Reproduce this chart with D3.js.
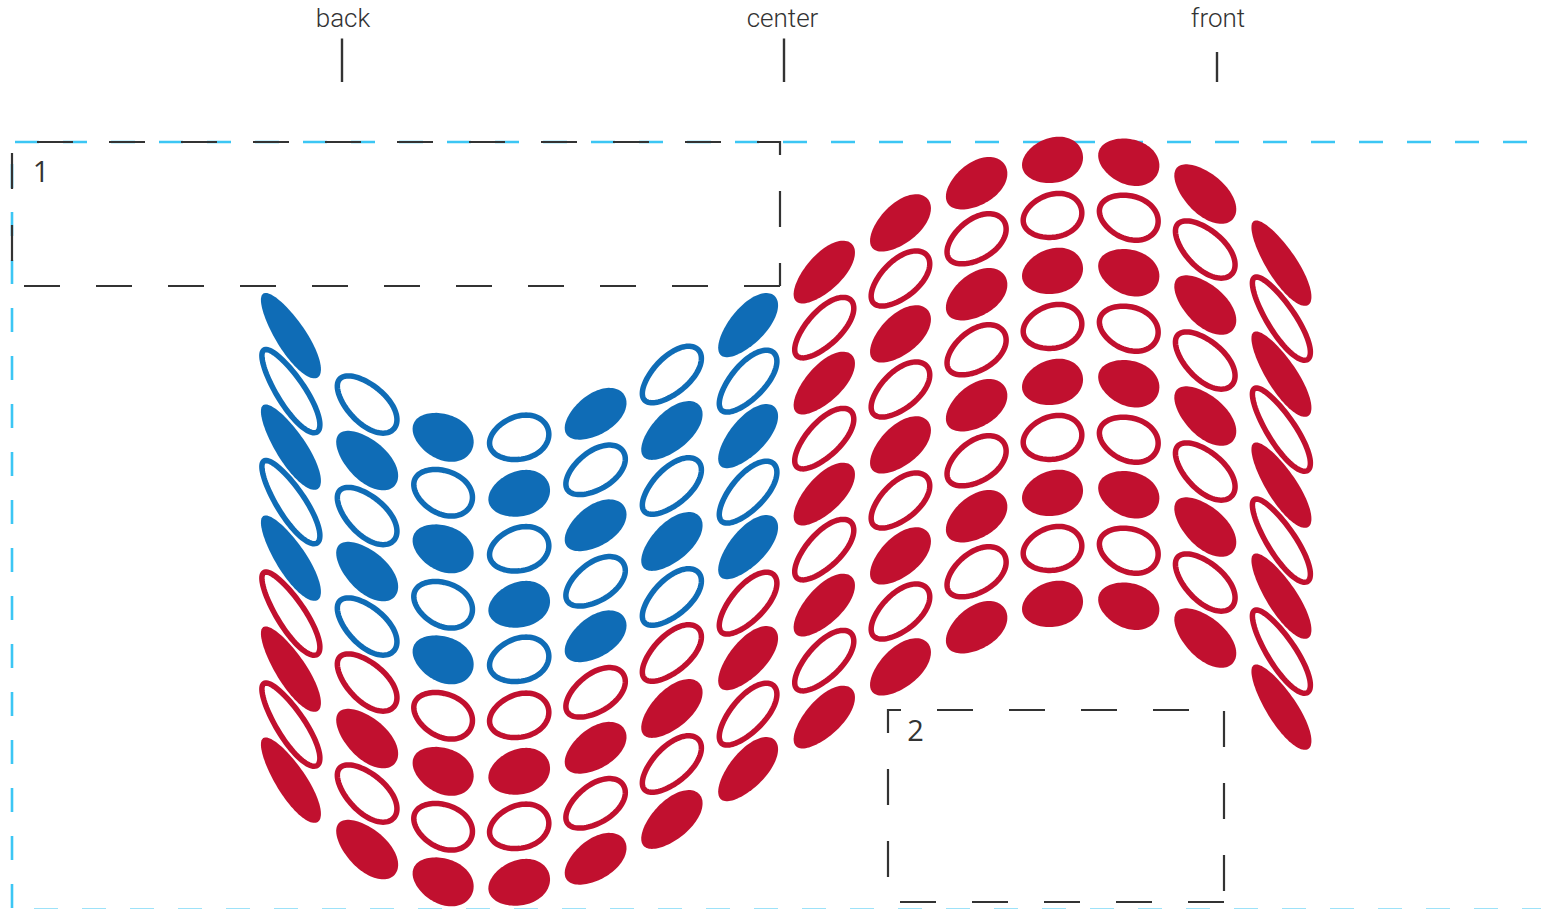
<!DOCTYPE html>
<html>
<head>
<meta charset="utf-8">
<style>
  html, body { margin: 0; padding: 0; background: #fff; overflow: hidden; }
  svg { display: block; }
  text { fill: #333; }
</style>
</head>
<body>
<svg id="chart" width="1541" height="909"></svg>
<script src="https://cdn.jsdelivr.net/npm/d3@7"></script>
<script>
// columns run left to right, rows are distance below the top of the frame
const columnIds = d3.range(14);
const rowOffsets = [
  [193.5, 249, 305, 360, 416, 471.5, 527, 582.5, 638],
  [262, 318, 373.5, 429, 484, 540, 596, 651, 707],
  [294.5, 350, 406, 462, 517, 573, 628.5, 684, 739],
  [296, 352, 407.5, 463, 518, 574, 630, 685, 741],
  [272.5, 328.5, 384, 440, 495, 551, 606.5, 662, 717.5],
  [233, 289, 344.5, 400, 455.5, 511.5, 567, 622.5, 678],
  [183.5, 239.5, 294.5, 350.5, 405.5, 461.5, 516.5, 572.5, 627.5],
  [130.5, 186, 241.5, 297, 352.5, 408, 463.5, 519, 575.5],
  [81.5, 137, 192.5, 248, 303.5, 359, 414.5, 470, 525.5],
  [42, 97.5, 153, 208.5, 264, 319.5, 375, 430.5, 486],
  [18.5, 74, 129.5, 185, 240.5, 296, 351.5, 407, 462.5],
  [19.5, 75, 130, 186, 241, 297, 352, 408, 463.5],
  [51.5, 107, 162.5, 218, 273.5, 329, 384.5, 440, 495.5],
  [121, 176.5, 232, 287.5, 343, 398.5, 454, 509.5, 565]
];
// F = filled, O = outline
const rowKinds = [
  'FOFOFOFOF', 'OFOFOOFOF', 'FOFOFOFOF', 'OFOFOOFOF', 'FOFOFOFOF', 'OFOFOOFOF', 'FOFOFOFOF',
  'FOFOFOFOF', 'FOFOFOFOF', 'FOFOFOFOF', 'FOFOFOFOF', 'FOFOFOFOF', 'FOFOFOFOF', 'FOFOFOFOF'
];
const blueRows = [5, 5, 5, 5, 5, 5, 5, 0, 0, 0, 0, 0, 0, 0];
const tilt = [57, 43, 25, -17, -35, -43, -48, -46, -42, -35, -15, 20, 43, 57];
const semiMajor = [50, 38, 32, 31.5, 35, 38, 40, 40, 37, 34.5, 31, 31.5, 38, 50];
const semiMinor = [15, 20, 22.5, 22.5, 20, 19, 18, 18, 19.5, 21, 22.5, 22.5, 20, 15];

const markerLabels = ['back', 'center', 'front'];
const markerX = [342, 784, 1217];
const markerTop = [38.5, 38.5, 52];

const svg = d3.select('#chart');
const x = d3.scalePoint().domain(columnIds).range([290.5, 1281]);
const y = d3.scaleLinear().domain([0, 766]).range([142, 908]);

const BLUE = '#0f6cb6';
const RED = '#c1102f';
const CYAN = '#3cc6f4';
const DARK = '#333';

const line = d3.line();

// egg outline, slightly wider towards +u
const eggPath = (a, b) => {
  const pts = d3.range(0, 2 * Math.PI, Math.PI / 48).map((t) => {
    const c = Math.cos(t);
    const s = Math.sin(t);
    return [a * c, b * s * (1 + 0.09 * c)];
  });
  return line(pts) + 'Z';
};

const dashed = (pts, color, dash, width = 2.2) => svg.append('path')
  .attr('d', line(pts))
  .attr('fill', 'none')
  .attr('stroke', color)
  .attr('stroke-width', width)
  .attr('stroke-dasharray', dash);

// Cyan frame
dashed([[15, 142], [1530, 142]], CYAN, '24 24', 2.6);
dashed([[12, 164], [12, 908]], CYAN, '24 24', 2.6);
dashed([[34, 909.6], [1541, 909.6]], CYAN, '24 24', 2);

// Dashed boxes
dashed([[37, 142], [780, 142], [780, 286]], DARK, '36 36');
dashed([[24, 286], [780, 286]], DARK, '36 36');
dashed([[12, 153], [12, 261]], DARK, '36 36');

dashed([[901, 710], [888, 710], [888, 878]], DARK, '36 36');
dashed([[937, 710], [1189, 710]], DARK, '36 36');
dashed([[1224, 711], [1224, 891]], DARK, '36 36');
dashed([[900, 902], [1224, 902]], DARK, '36 36');

svg.append('text').attr('x', 41).attr('y', 182).attr('text-anchor', 'middle')
  .style('font', '29px "Open Sans"').text('1');
svg.append('text').attr('x', 915.5).attr('y', 741).attr('text-anchor', 'middle')
  .style('font', '29px "Open Sans"').text('2');

// Top markers
const markers = svg.append('g').selectAll('g')
  .data(markerLabels)
  .join('g');

markers.append('line')
  .attr('x1', (d, i) => markerX[i])
  .attr('x2', (d, i) => markerX[i])
  .attr('y1', (d, i) => markerTop[i])
  .attr('y2', 82)
  .attr('stroke', DARK)
  .attr('stroke-width', 2.4);

markers.append('text')
  .attr('x', (d, i) => markerX[i] + (i === 0 ? 1 : i === 1 ? -1.5 : 1))
  .attr('y', 27)
  .attr('text-anchor', 'middle')
  .style('font', '300 26px Roboto')
  .text((d) => d);

// Cells
const cells = columnIds.flatMap((col) => rowOffsets[col].map((offset, row) => ({
  col,
  offset,
  filled: rowKinds[col][row] === 'F',
  color: row < blueRows[col] ? BLUE : RED
})));

svg.append('g').selectAll('path')
  .data(cells)
  .join('path')
  .attr('transform', (d) => `translate(${x(d.col)},${y(d.offset)}) rotate(${tilt[d.col]})`)
  .attr('d', (d) => {
    const shrink = d.filled ? 0 : 1.2;
    return eggPath(semiMajor[d.col] - shrink, semiMinor[d.col] - shrink);
  })
  .attr('fill', (d) => (d.filled ? d.color : 'none'))
  .attr('stroke', (d) => (d.filled ? 'none' : d.color))
  .attr('stroke-width', 5.5);
</script>
</body>
</html>
